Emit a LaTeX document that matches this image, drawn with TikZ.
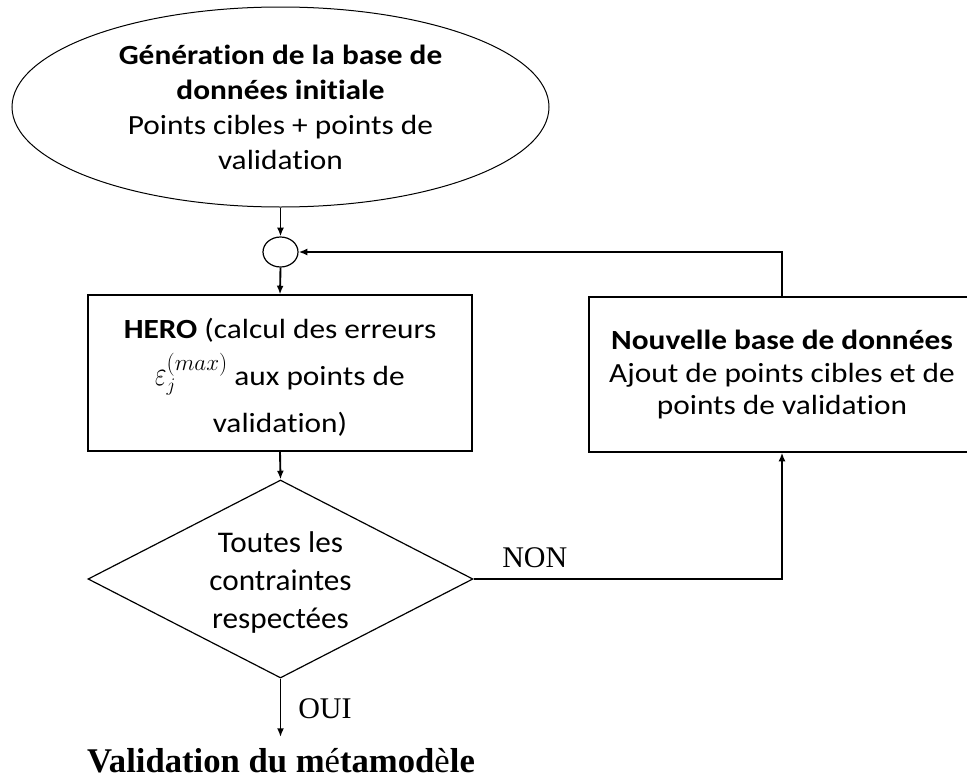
\documentclass[tikz,border=0pt]{standalone}
\usepackage{fontspec}
\setmainfont[FakeStretch=1.13,Ligatures=NoCommon]{Carlito}
\newfontfamily\diafont[FakeStretch=1.04,Ligatures=NoCommon]{Carlito}
\newfontfamily\serfont{Liberation Serif}
\usetikzlibrary{shapes.geometric,arrows.meta}
\begin{document}
\begin{tikzpicture}[x=0.75pt,y=-0.75pt,
  shapeline/.style={draw=black,line width=0.9pt,inner sep=0pt,align=center},
  conn/.style={draw=black,line width=1.4pt,-{Latex[length=6.5pt,width=5.2pt]}},
  serlabel/.style={inner sep=0pt,font=\serfont\fontsize{22.5}{27}\selectfont}]
\useasboundingbox (0,0) rectangle (967,778);
\node[shapeline,ellipse,line width=0.75pt,minimum width=402.75pt,minimum height=150pt,font=\fontsize{20.8}{26.3}\selectfont] (gen) at (280.5,107)
  {\textbf{Génération de la base de}\\\textbf{données initiale}\\Points cibles + points de\\validation};
\node[shapeline,ellipse,minimum width=26.25pt,minimum height=22.5pt] (jn) at (280.5,252) {};
\node[shapeline,rectangle,minimum width=288pt,minimum height=117pt,font=\fontsize{20.8}{35.25}\selectfont] (hero) at (280,373)
  {\rule{0pt}{22pt}\textbf{HERO} (calcul des erreurs\\\scalebox{0.9}[1.25]{\fontsize{22}{22}\selectfont$\varepsilon$}\rlap{\raisebox{-4pt}{\fontsize{15}{15}\selectfont$j$}}\raisebox{11.5pt}{\fontsize{17}{17}\selectfont$(max)$} aux points de\\validation)};
\node[shapeline,diamond,aspect=1.94,minimum width=288.75pt,minimum height=148.5pt,font=\diafont\fontsize{22.5}{28.5}\selectfont] (dia) at (280.5,579)
  {\rule{0pt}{21pt}Toutes les\\contraintes\\respectées};
\node[shapeline,rectangle,minimum width=289.5pt,minimum height=116.25pt,font=\fontsize{20.8}{24.5}\selectfont] (nbox) at (782,374.5)
  {\textbf{Nouvelle base de données}\\Ajout de points cibles et de\\points de validation};
\coordinate (vend) at (280.5,737);
\draw[conn] (gen.south) -- (jn.north);
\draw[conn] (jn.south) -- (hero.north);
\draw[conn] (hero.south) -- (dia.north);
\draw[conn] (dia.east) -| (nbox.south);
\draw[conn] (nbox.north) |- (jn.east);
\draw[conn] (dia.south) -- (vend);
\node[serlabel,anchor=base west] (non) at (502,567) {NON};
\node[serlabel,anchor=base west] (oui) at (298,718) {OUI};
\node[inner sep=0pt,anchor=base,font=\serfont\fontsize{26}{30}\selectfont] (valid) at (281,772)
  {\bfseries Validation du m{\mdseries é}tamod{\mdseries è}le};
\end{tikzpicture}
\end{document}
